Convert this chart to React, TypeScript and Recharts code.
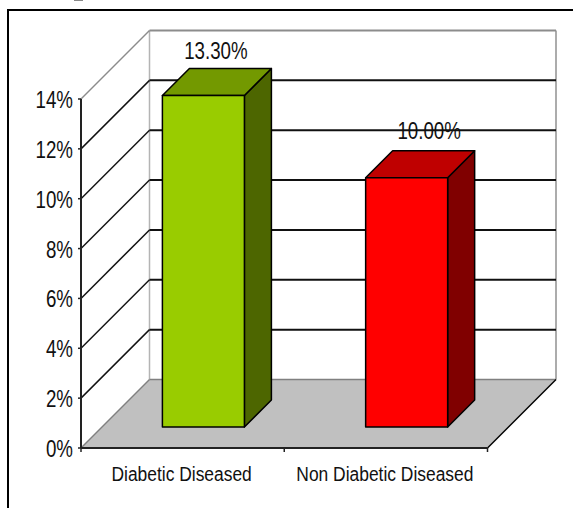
import { Bar, BarChart, CartesianGrid, LabelList, XAxis, YAxis } from "recharts";

const categories = ["Diabetic Diseased", "Non Diabetic Diseased"];
const percentages = [13.3, 10];
const yTicks = [0, 2, 4, 6, 8, 10, 12, 14];

const data = categories.map((name, i) => ({ name, value: percentages[i] }));

const frontColors = ["#99cc00", "#ff0000"];
const topColors = ["#739900", "#bf0000"];
const sideColors = ["#4d6600", "#800000"];
const labelNudgeX = [0, 10];
const labelNudgeY = [0, 3];

const WIDTH = 573;
const HEIGHT = 508;
const WALL_DEPTH = 68.5;
const BAR_INSET = 20.4;
const BAR_RISE = 21;
const BAR_DEPTH = 27;
const PLOT = { left: 81, right: 487.5, top: 99, bottom: 448 };
const BAND = (PLOT.right - PLOT.left) / categories.length;
const FONT = "'Liberation Sans', Arial, sans-serif";

function SqueezedText({ x, y, size, squeeze = 0.78, anchor, children }: any) {
  return (
    <text
      transform={`translate(${x} ${y}) scale(${squeeze} 1)`}
      textAnchor={anchor}
      fontFamily={FONT}
      fontSize={size}
      fill="#111"
    >
      {children}
    </text>
  );
}

// Each grid line runs up the side wall and across the back wall.
// The 0% line becomes the floor, the top line closes the walls.
function WallLine({ x1, x2, y1, index }: any) {
  const backY = y1 - WALL_DEPTH;
  const backLeft = x1 + WALL_DEPTH;
  const backRight = x2 + WALL_DEPTH;
  if (y1 >= PLOT.bottom - 1) {
    return (
      <g key={`floor-${index}`}>
        <line x1={backLeft} y1={PLOT.top - WALL_DEPTH} x2={backLeft} y2={backY} stroke="#b4b4b4" strokeWidth={1.5} />
        <line x1={backRight} y1={PLOT.top - WALL_DEPTH} x2={backRight} y2={backY} stroke="#909090" strokeWidth={1.5} />
        <polygon points={`${x1},${y1} ${backLeft},${backY} ${backRight},${backY} ${x2},${y1}`} fill="#c0c0c0" />
        <line x1={x1} y1={y1} x2={backLeft} y2={backY} stroke="#808080" strokeWidth={1.5} />
        <line x1={backLeft} y1={backY} x2={backRight} y2={backY} stroke="#808080" strokeWidth={1.5} />
        <line x1={x2} y1={y1} x2={backRight} y2={backY} stroke="#000" strokeWidth={1.5} />
      </g>
    );
  }
  const isTop = y1 <= PLOT.top + 1;
  const stroke = isTop ? "#8c8c8c" : "#111";
  return (
    <g key={`wall-${index}`}>
      <line x1={x1} y1={y1} x2={backLeft} y2={backY} stroke={stroke} strokeWidth={1.5} />
      <line x1={backLeft} y1={backY} x2={backRight} y2={backY} stroke={stroke} strokeWidth={2} />
    </g>
  );
}

function Box3D({ x, y, width, height, index }: any) {
  const left = x + BAR_INSET;
  const right = left + width;
  const top = y - BAR_RISE;
  const bottom = y + height - BAR_RISE;
  const d = BAR_DEPTH;
  const edge = { stroke: "#000", strokeWidth: 1.5, strokeLinejoin: "round" as const };
  return (
    <g>
      <polygon
        points={`${right},${top} ${right + d},${top - d} ${right + d},${bottom - d} ${right},${bottom}`}
        fill={sideColors[index]}
        {...edge}
      />
      <polygon
        points={`${left},${top} ${left + d},${top - d} ${right + d},${top - d} ${right},${top}`}
        fill={topColors[index]}
        {...edge}
      />
      <rect x={left} y={top} width={width} height={bottom - top} fill={frontColors[index]} {...edge} />
    </g>
  );
}

function BarValue({ x, y, width, value, index }: any) {
  const cx = x + BAR_INSET + width / 2 + BAR_DEPTH / 2 + labelNudgeX[index] - 1;
  const baseline = y - BAR_RISE - BAR_DEPTH - 9 - labelNudgeY[index];
  return (
    <SqueezedText x={cx} y={baseline} size={24} anchor="middle">
      {`${Number(value).toFixed(2)}%`}
    </SqueezedText>
  );
}

function YTick({ x, y, payload }: any) {
  return (
    <SqueezedText x={x - 3} y={y + 9} size={24} anchor="end">
      {`${payload.value}%`}
    </SqueezedText>
  );
}

function XTick({ x, y, payload, index }: any) {
  const edgeX = x - BAND / 2;
  return (
    <g>
      <line x1={edgeX} y1={PLOT.bottom} x2={edgeX} y2={PLOT.bottom + 4} stroke="#222" strokeWidth={1.5} />
      {index === categories.length - 1 && (
        <line x1={x + BAND / 2} y1={PLOT.bottom} x2={x + BAND / 2} y2={PLOT.bottom + 4} stroke="#222" strokeWidth={1.5} />
      )}
      <SqueezedText x={x - 1} y={y + 25} size={21} squeeze={0.83} anchor="middle">
        {payload.value}
      </SqueezedText>
    </g>
  );
}

export default function App() {
  return (
    <div style={{ position: "absolute", left: 0, top: 0, width: WIDTH, height: HEIGHT, overflow: "hidden", background: "#fff" }}>
      <div style={{ position: "absolute", left: 74, top: 0, width: 9, height: 1, background: "#888" }} />
      <div
        style={{
          position: "absolute",
          left: 7,
          top: 9,
          width: WIDTH,
          height: HEIGHT,
          borderLeft: "2px solid #000",
          borderTop: "2px solid #000",
        }}
      />
      <div style={{ position: "absolute", left: 0, top: 0 }}>
        <BarChart
          width={WIDTH}
          height={HEIGHT}
          data={data}
          margin={{ left: 41, right: WIDTH - PLOT.right, top: PLOT.top, bottom: 20 }}
        >
          <CartesianGrid vertical={false} horizontal={WallLine} />
          <XAxis
            dataKey="name"
            height={40}
            interval={0}
            tick={XTick}
            tickLine={false}
            axisLine={{ stroke: "#222", strokeWidth: 2 }}
          />
          <YAxis
            width={40}
            domain={[0, 14]}
            ticks={yTicks}
            interval={0}
            tick={YTick}
            tickSize={3}
            tickLine={{ stroke: "#222", strokeWidth: 1.5 }}
            axisLine={{ stroke: "#222", strokeWidth: 2 }}
          />
          <Bar dataKey="value" barSize={82} shape={Box3D} isAnimationActive={false}>
            <LabelList dataKey="value" content={BarValue} />
          </Bar>
        </BarChart>
      </div>
    </div>
  );
}
